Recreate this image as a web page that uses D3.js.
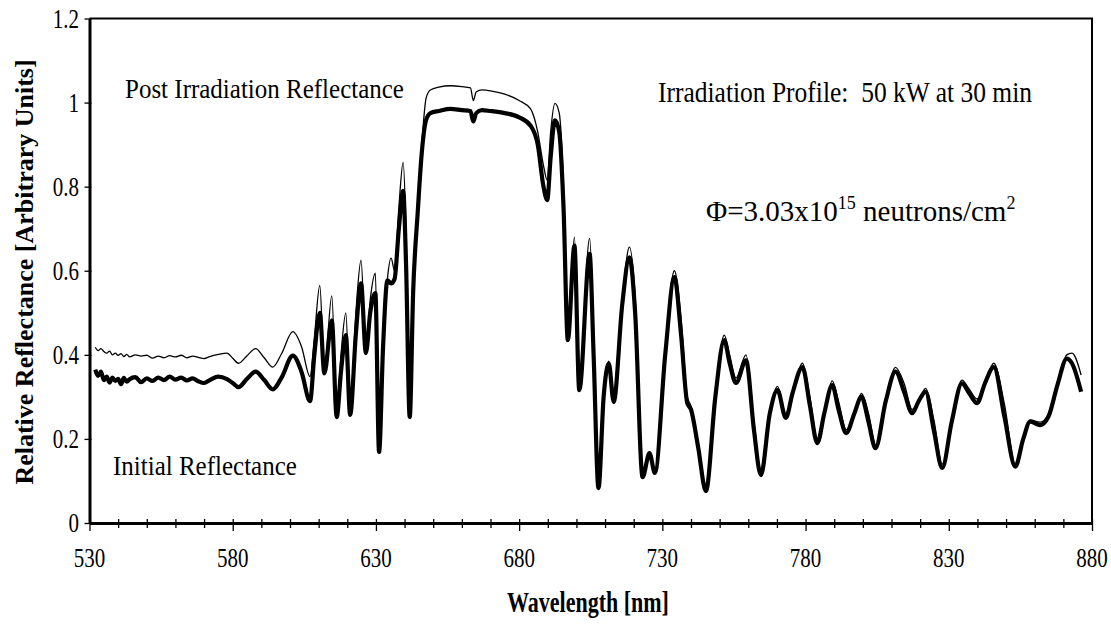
<!DOCTYPE html>
<html>
<head>
<meta charset="utf-8">
<script src="https://cdn.jsdelivr.net/npm/d3@7"></script>
<style>
  body { margin: 0; background: #fff; }
  svg text { font-family: "Liberation Serif", "DejaVu Serif", serif; fill: #000; }
</style>
</head>
<body>
<div id="chart"></div>
<script>
// wavelength [nm]
var wavelength = [532, 533, 534, 535, 536, 537, 538, 539, 540, 541, 542, 543, 544, 546, 548, 550, 552, 554, 556, 558,
  560, 562, 564, 566, 568, 570, 572, 575, 578, 580, 582, 585, 588, 591, 594, 597, 601, 604, 607, 608.5,
  610.4, 612, 614.6, 616.3, 617.8, 619.5, 621, 623, 624.8, 626.5, 628, 629.8, 631.1, 632.5, 634, 635.3, 636.5, 638, 639.5, 640.5,
  641.8, 643, 644.6, 646, 647.5, 649, 652, 656, 660, 663, 664, 665, 667, 670, 675, 680, 684, 686.5, 688.5, 689.8,
  691, 692.5, 694, 695.5, 697, 699.3, 701, 704.6, 706, 707.7, 709.5, 711.3, 713, 716, 718.5, 720.5, 723.1, 725.5, 727.4, 731,
  734.2, 736.5, 738.7, 740, 742.5, 745.2, 748.5, 751.6, 753.5, 755.7, 759.2, 762, 764.4, 767.5, 770.2, 773.1, 775.5, 778.9, 781.5, 784.1,
  786.5, 789.3, 791.5, 794.2, 797, 799.5, 802, 804.4, 808, 811.4, 814.5, 817.2, 819.5, 821.9, 824.8, 827.7, 831, 834.6, 837, 839.9,
  842.5, 845.7, 849.5, 853.2, 856, 858.4, 861.9, 864.8, 868, 871.2, 873, 876.2];

// initial reflectance (thick line)
var initialR = [0.365, 0.350, 0.360, 0.340, 0.348, 0.334, 0.346, 0.338, 0.343, 0.330, 0.345, 0.336, 0.342, 0.347, 0.335, 0.344, 0.338, 0.346, 0.340, 0.348,
  0.341, 0.346, 0.339, 0.344, 0.337, 0.333, 0.340, 0.348, 0.342, 0.333, 0.323, 0.343, 0.360, 0.340, 0.318, 0.345, 0.398, 0.360, 0.290, 0.40,
  0.50, 0.356, 0.482, 0.252, 0.36, 0.447, 0.257, 0.45, 0.57, 0.404, 0.50, 0.547, 0.169, 0.42, 0.577, 0.57, 0.58, 0.70, 0.79, 0.62,
  0.252, 0.55, 0.74, 0.88, 0.958, 0.975, 0.980, 0.985, 0.982, 0.980, 0.955, 0.975, 0.982, 0.980, 0.975, 0.965, 0.945, 0.90, 0.80, 0.768,
  0.87, 0.958, 0.93, 0.75, 0.435, 0.66, 0.316, 0.64, 0.40, 0.083, 0.30, 0.38, 0.288, 0.52, 0.632, 0.50, 0.109, 0.166, 0.119, 0.40,
  0.585, 0.45, 0.285, 0.270, 0.18, 0.076, 0.30, 0.435, 0.38, 0.333, 0.387, 0.22, 0.114, 0.26, 0.316, 0.25, 0.31, 0.371, 0.28, 0.19,
  0.26, 0.328, 0.27, 0.214, 0.26, 0.30, 0.24, 0.178, 0.29, 0.36, 0.31, 0.261, 0.29, 0.312, 0.22, 0.131, 0.24, 0.332, 0.31, 0.285,
  0.33, 0.371, 0.25, 0.134, 0.20, 0.241, 0.233, 0.253, 0.33, 0.391, 0.38, 0.312];

// post irradiation reflectance (thin line)
var postR = [0.418, 0.410, 0.415, 0.408, 0.404, 0.409, 0.400, 0.404, 0.399, 0.403, 0.396, 0.401, 0.395, 0.400, 0.397, 0.399, 0.392, 0.397, 0.393, 0.398,
  0.395, 0.399, 0.393, 0.397, 0.394, 0.391, 0.396, 0.401, 0.404, 0.392, 0.380, 0.398, 0.415, 0.393, 0.371, 0.402, 0.455, 0.420, 0.348, 0.44,
  0.565, 0.365, 0.540, 0.260, 0.40, 0.500, 0.265, 0.50, 0.625, 0.410, 0.53, 0.594, 0.18, 0.43, 0.58, 0.63, 0.60, 0.75, 0.858, 0.70,
  0.26, 0.55, 0.76, 0.90, 1.01, 1.030, 1.037, 1.040, 1.038, 1.035, 1.005, 1.025, 1.030, 1.028, 1.020, 1.005, 0.985, 0.93, 0.85, 0.815,
  0.93, 0.998, 0.975, 0.80, 0.44, 0.68, 0.32, 0.677, 0.45, 0.09, 0.30, 0.385, 0.295, 0.53, 0.656, 0.54, 0.115, 0.17, 0.125, 0.41,
  0.60, 0.49, 0.30, 0.278, 0.19, 0.08, 0.30, 0.447, 0.40, 0.345, 0.40, 0.24, 0.12, 0.26, 0.325, 0.26, 0.31, 0.38, 0.30, 0.20,
  0.26, 0.338, 0.29, 0.222, 0.26, 0.308, 0.26, 0.185, 0.29, 0.37, 0.33, 0.27, 0.29, 0.32, 0.245, 0.14, 0.24, 0.34, 0.32, 0.295,
  0.33, 0.38, 0.28, 0.14, 0.20, 0.245, 0.24, 0.26, 0.33, 0.400, 0.404, 0.352];

var xTicks = [530, 580, 630, 680, 730, 780, 830, 880];
var yTicks = [0, 0.2, 0.4, 0.6, 0.8, 1, 1.2];
var yTickLabels = ["0", "0.2", "0.4", "0.6", "0.8", "1", "1.2"];

function createChart() {
  var width = 1111, height = 624;
  var serif = "'Liberation Serif', 'DejaVu Serif', serif";

  var svg = d3.select("#chart").append("svg")
    .attr("width", width)
    .attr("height", height)
    .attr("font-family", serif);

  var x = d3.scaleLinear().domain([530, 880]).range([89.5, 1092]);
  var y = d3.scaleLinear().domain([0, 1.2]).range([523, 18.5]);

  // stretched text like the scanned figure
  function label(px, py, str, size, sy, anchor, weight) {
    return svg.append("text")
      .attr("transform", "translate(" + px + "," + py + ") scale(1," + sy + ")")
      .attr("font-family", serif)
      .attr("font-size", size)
      .attr("text-anchor", anchor || "start")
      .attr("font-weight", weight || "normal")
      .style("white-space", "pre")
      .text(str);
  }

  // frame: top and right thinner
  svg.append("path")
    .attr("d", "M" + x(530) + "," + y(1.2) + "H" + x(880) + "V" + y(0))
    .attr("fill", "none").attr("stroke", "#000").attr("stroke-width", 2);

  // x axis
  var xAxis = svg.append("g")
    .attr("transform", "translate(0," + y(0) + ")")
    .call(d3.axisBottom(x).tickValues(d3.range(530, 881, 10)).tickSize(0).tickFormat(""));
  xAxis.select(".domain").attr("stroke-width", 3);
  xAxis.selectAll(".tick line")
    .attr("y1", -4)
    .attr("y2", d => xTicks.indexOf(d) >= 0 ? 8 : 5)
    .attr("stroke-width", 1.3);

  xTicks.forEach(function (t) {
    label(x(t), 567, String(t), 21, 1.3, "middle");
  });

  // y axis
  var yAxis = svg.append("g")
    .attr("transform", "translate(" + x(530) + ",0)")
    .call(d3.axisLeft(y).tickValues(yTicks).tickSize(0).tickFormat(""));
  yAxis.select(".domain").attr("stroke-width", 3);
  yAxis.selectAll(".tick line").attr("x1", -5).attr("x2", 2).attr("stroke-width", 1.3);

  yTicks.forEach(function (t, i) {
    label(79, y(t) + 9, yTickLabels[i], 21, 1.3, "end");
  });

  // curves
  var pts = wavelength.map((w, i) => ({ w: w, a: initialR[i], b: postR[i] }));

  var postLine = d3.line().x(d => x(d.w)).y(d => y(d.b)).curve(d3.curveMonotoneX);
  var initLine = d3.line().x(d => x(d.w)).y(d => y(d.a)).curve(d3.curveMonotoneX);

  svg.append("path")
    .datum(pts)
    .attr("fill", "none")
    .attr("stroke", "#000")
    .attr("stroke-width", 1.3)
    .attr("d", postLine);

  svg.append("path")
    .datum(pts)
    .attr("fill", "none")
    .attr("stroke", "#000")
    .attr("stroke-width", 4.2)
    .attr("stroke-linejoin", "round")
    .attr("d", initLine);

  // axis titles
  svg.append("text")
    .attr("transform", "translate(33,272) rotate(-90)")
    .attr("text-anchor", "middle")
    .attr("font-family", serif)
    .attr("font-size", 26)
    .attr("font-weight", "bold")
    .text("Relative Reflectance [Arbitrary Units]");

  label(588, 612, "Wavelength [nm]", 22, 1.3, "middle", "bold");

  // annotations
  label(125, 98, "Post Irradiation Reflectance", 25, 1.12);
  label(113, 475, "Initial Reflectance", 25, 1.12);
  label(658, 102, "Irradiation Profile:  50 kW at 30 min", 25.5, 1.12);

  var phi = svg.append("text")
    .attr("transform", "translate(706,221)")
    .attr("font-family", serif)
    .attr("font-size", 29);
  phi.append("tspan").text("\u03A6=3.03x10");
  phi.append("tspan").attr("font-size", 18).attr("dy", -12).text("15");
  phi.append("tspan").attr("dy", 12).text(" neutrons/cm");
  phi.append("tspan").attr("font-size", 18).attr("dy", -12).text("2");
}

createChart();
</script>
</body>
</html>
